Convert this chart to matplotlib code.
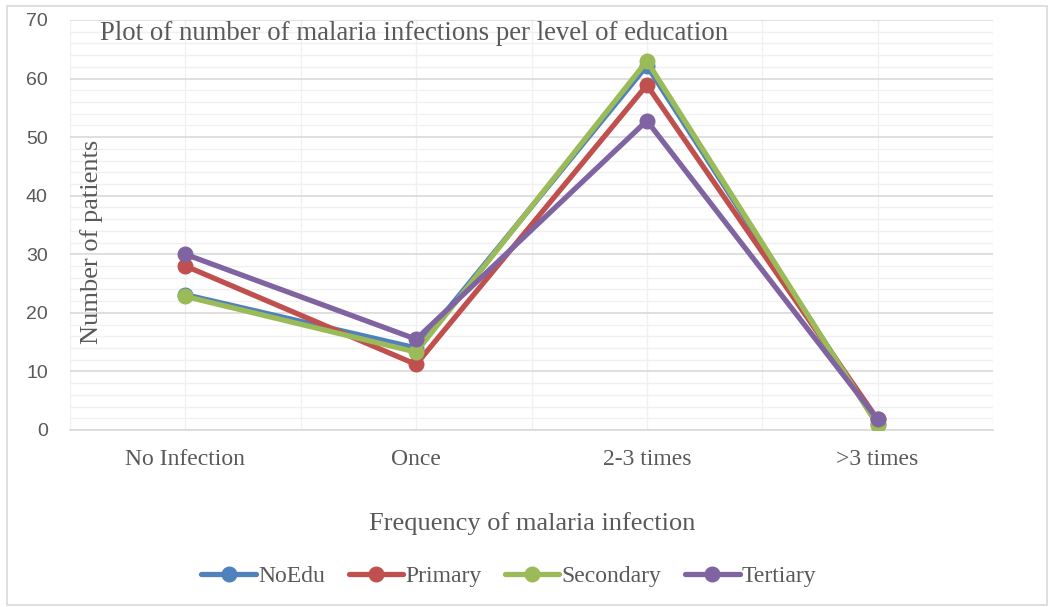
import matplotlib
matplotlib.use("Agg")
import matplotlib.pyplot as plt
from matplotlib.patches import Rectangle
import numpy as np

categories = ["No Infection", "Once", "2-3 times", ">3 times"]
noedu = [23.1, 14.0, 62.2, 1.0]
primary = [28.0, 11.2, 58.9, 1.8]
secondary = [22.8, 13.3, 63.0, 0.8]
tertiary = [30.0, 15.5, 52.8, 1.8]
series_names = ["NoEdu", "Primary", "Secondary", "Tertiary"]
colors = ["#4F81BD", "#C0504D", "#9BBB59", "#8064A2"]

serif = ["Liberation Serif", "DejaVu Serif"]
txt = "#595959"

fig = plt.figure(figsize=(10.56, 6.07), dpi=100)
fig.patches.append(Rectangle((7/1056, 1-605/607), 1040/1056, 599/607, transform=fig.transFigure,
                             fill=False, edgecolor="#d9d9d9", linewidth=1.2))
ax = fig.add_axes([70/1056, 1-430/607, 923/1056, 410/607])

x = np.arange(len(categories))
for vals, name, c in zip([noedu, primary, secondary, tertiary], series_names, colors):
    ax.plot(x, vals, color=c, linewidth=3.8, marker="o", markersize=10.5, label=name,
            solid_capstyle="round", zorder=3)

ax.set_xlim(-0.5, 3.5)
ax.set_ylim(0, 70)
ax.set_yticks(np.arange(0, 71, 10))
ax.set_yticks(np.arange(0, 71, 2), minor=True)
ax.set_xticks(x)
ax.set_xticklabels(categories, fontfamily=serif, fontsize=17, color=txt)
ax.set_xticks(np.arange(-0.5, 3.6, 1), minor=True)
ax.tick_params(axis="both", which="both", length=0)
ax.tick_params(axis="x", pad=14)
ax.tick_params(axis="y", pad=16, labelsize=14, labelcolor=txt)
for lab in ax.get_yticklabels():
    lab.set_fontfamily(["Liberation Sans", "DejaVu Sans"])

ax.grid(True, which="major", axis="y", color="#d9d9d9", linewidth=1.2, zorder=0)
ax.grid(True, which="minor", axis="y", color="#f0f0f0", linewidth=1.0, zorder=0)
ax.grid(True, which="major", axis="x", color="#f0f0f0", linewidth=1.0, zorder=0)
ax.grid(True, which="minor", axis="x", color="#f0f0f0", linewidth=1.0, zorder=0)
for s in ["top", "left", "right"]:
    ax.spines[s].set_visible(False)
ax.spines["bottom"].set_color("#d9d9d9")
ax.spines["bottom"].set_linewidth(1.2)

fig.text(100/1056, 1-34/607, "Plot of number of malaria infections per level of education",
         fontfamily=serif, fontsize=19.3, color=txt, ha="left", va="center")
fig.text(92/1056, 1-242/607, "Number of patients", rotation=90, fontfamily=serif,
         fontsize=19, color=txt, ha="center", va="center")
fig.text(532/1056, 1-524/607, "Frequency of malaria infection", fontfamily=serif,
         fontsize=19, color=txt, ha="center", va="center")

leg = fig.legend(loc="center", bbox_to_anchor=(509/1056, 1-576/607), ncol=4, frameon=False,
                 prop={"family": serif, "size": 17}, handlelength=2.3, handletextpad=0.1,
                 columnspacing=1.0)
for t in leg.get_texts():
    t.set_color(txt)

fig.savefig("out.png", dpi=100)
